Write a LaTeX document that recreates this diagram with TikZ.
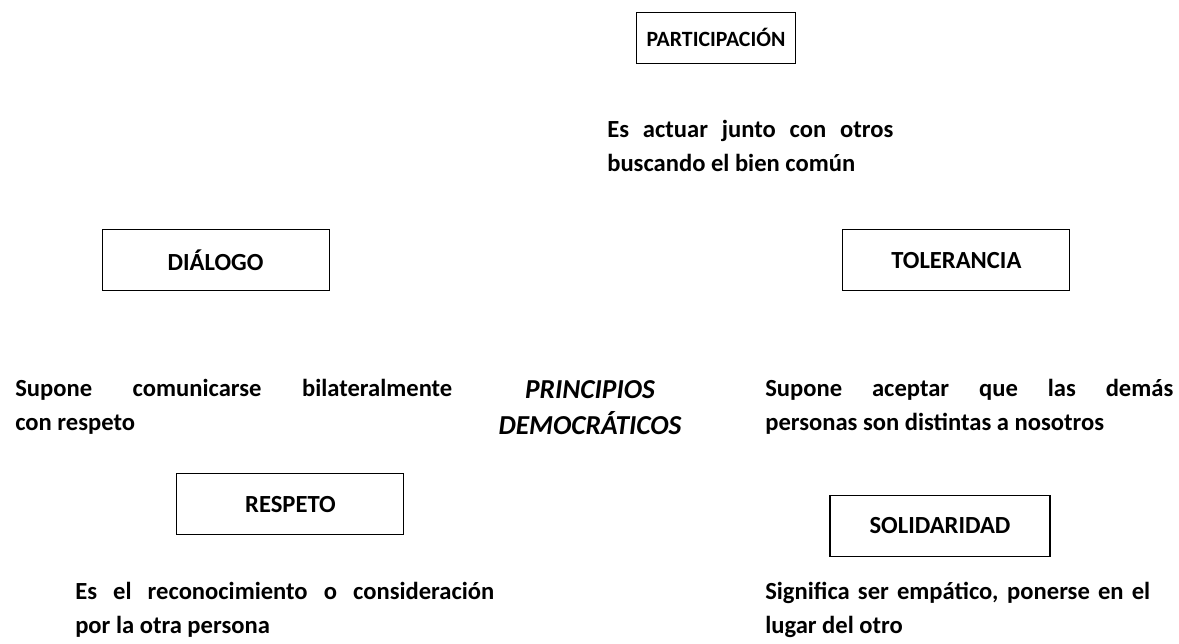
\documentclass[tikz,border=0pt]{standalone}
\usepackage{fontspec}
\setmainfont{Carlito}
\usepackage{tikz}
\usetikzlibrary{positioning}

\tikzstyle{principle} = [rectangle, minimum width=5.675cm, minimum height=1.525cm, text centered, draw=black, thick, font=\fontsize{17.5}{20}\selectfont\bfseries]
\tikzstyle{meaning} = [inner sep=0pt, anchor=west, align=justify, font=\fontsize{17.5}{24.2}\selectfont\bfseries]
\tikzstyle{title} = [inner sep=0pt, align=center, font=\fontsize{19.5}{25.5}\selectfont\bfseries\itshape]

\begin{document}
\begin{tikzpicture}
\useasboundingbox (0,0) rectangle (29.475,-16.075);

\node (participacion) [principle, minimum width=3.55cm, minimum height=1.275cm, inner xsep=0.25cm, font=\fontsize{15.5}{18}\selectfont\bfseries] at (17.9,-0.94) {PARTICIPACIÓN};
\node (defparticipacion) [meaning, text width=7.15cm] at (15.175,-3.66) {Es actuar junto con otros\linebreak buscando el bien común};

\node (dialogo) [principle] at (5.39,-6.51) {DIÁLOGO};
\node (tolerancia) [principle] at (23.91,-6.51) {TOLERANCIA};

\node (defdialogo) [meaning, text width=10.925cm] at (0.375,-10.18) {Supone comunicarse bilateralmente\linebreak con respeto};
\node (principios) [title] at (14.75,-10.2) {PRINCIPIOS\\DEMOCRÁTICOS};
\node (deftolerancia) [meaning, text width=10.2cm] at (19.125,-10.18) {Supone aceptar que las demás\linebreak personas son distintas a nosotros};

\node (respeto) [principle] at (7.26,-12.61) {RESPETO};
\node (solidaridad) [principle, minimum width=5.5cm] at (23.5,-13.14) {SOLIDARIDAD};

\node (defrespeto) [meaning, text width=10.475cm] at (1.875,-15.25) {Es el reconocimiento o consideración\linebreak por la otra persona};
\node (defsolidaridad) [meaning, text width=9.625cm] at (19.125,-15.25) {Significa ser empático, ponerse en el\linebreak lugar del otro};

\end{tikzpicture}
\end{document}
